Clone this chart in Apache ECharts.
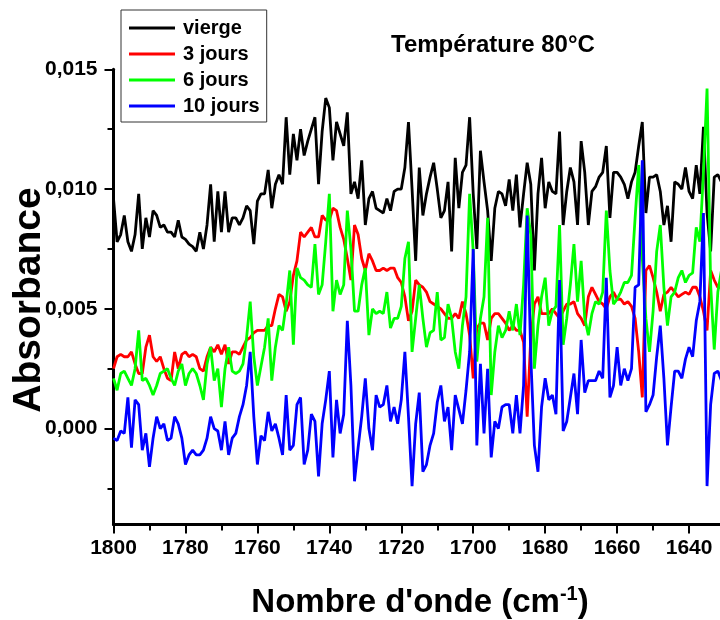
<!DOCTYPE html>
<html>
<head>
<meta charset="utf-8">
<script src="https://cdn.jsdelivr.net/npm/echarts@6/dist/echarts.min.js"></script>
<style>
html,body{margin:0;padding:0;background:#fff;}
#chart{width:720px;height:620px;}
</style>
</head>
<body>
<div id="chart"></div>
<script>
// Wavenumbers (cm-1)
const wavenumbers = [1800,1799,1798,1797,1796,1795,1794,1793,1792,1791,1790,1789,1788,1787,1786,1785,1784,1783,1782,1781,
1780,1779,1778,1777,1776,1775,1774,1773,1772,1771,1770,1769,1768,1767,1766,1765,1764,1763,1762,1761,
1760,1759,1758,1757,1756,1755,1754,1753,1752,1751,1750,1749,1748,1747,1746,1745,1744,1743,1742,1741,
1740,1739,1738,1737,1736,1735,1734,1733,1732,1731,1730,1729,1728,1727,1726,1725,1724,1723,1722,1721,
1720,1719,1718,1717,1716,1715,1714,1713,1712,1711,1710,1709,1708,1707,1706,1705,1704,1703,1702,1701,
1700,1699,1698,1697,1696,1695,1694,1693,1692,1691,1690,1689,1688,1687,1686,1685,1684,1683,1682,1681,
1680,1679,1678,1677,1676,1675,1674,1673,1672,1671,1670,1669,1668,1667,1666,1665,1664,1663,1662,1661,
1660,1659,1658,1657,1656,1655,1654,1653,1652,1651,1650,1649,1648,1647,1646,1645,1644,1643,1642,1641,
1640,1639,1638,1637,1636,1635,1634,1633,1632,1631];

const vierge = [0.0096,0.0078,0.0081,0.0089,0.0078,0.0074,0.0081,0.0098,0.0075,0.0088,0.0080,0.0091,0.0089,0.0084,0.0085,0.0082,0.0082,0.0080,0.0087,0.0080,
0.0079,0.0077,0.0076,0.0074,0.0082,0.0075,0.0085,0.0102,0.0078,0.0099,0.0082,0.0099,0.0082,0.0088,0.0088,0.0085,0.0088,0.0093,0.0091,0.0077,
0.0095,0.0098,0.0098,0.0108,0.0092,0.0102,0.0106,0.0102,0.0130,0.0106,0.0123,0.0112,0.0125,0.0114,0.0120,0.0125,0.0130,0.0102,0.0124,0.0138,
0.0134,0.0112,0.0128,0.0123,0.0118,0.0132,0.0098,0.0103,0.0096,0.0112,0.0085,0.0096,0.0099,0.0092,0.0091,0.0090,0.0096,0.0091,0.0099,0.0100,
0.0100,0.0109,0.0128,0.0100,0.0070,0.0109,0.0089,0.0098,0.0105,0.0111,0.0100,0.0088,0.0091,0.0103,0.0074,0.0113,0.0092,0.0107,0.0110,0.0130,
0.0098,0.0075,0.0116,0.0103,0.0091,0.0070,0.0092,0.0099,0.0098,0.0093,0.0104,0.0091,0.0106,0.0084,0.0098,0.0111,0.0102,0.0066,0.0098,0.0113,
0.0092,0.0103,0.0099,0.0098,0.0124,0.0085,0.0099,0.0109,0.0103,0.0085,0.0120,0.0107,0.0085,0.0099,0.0101,0.0105,0.0107,0.0118,0.0088,0.0107,
0.0107,0.0105,0.0102,0.0096,0.0103,0.0107,0.0118,0.0128,0.0090,0.0105,0.0105,0.0106,0.0099,0.0085,0.0093,0.0078,0.0103,0.0102,0.0100,0.0109,
0.0099,0.0096,0.0110,0.0098,0.0126,0.0090,0.0074,0.0105,0.0106,0.0103];

const jours3 = [0.0025,0.0030,0.0031,0.0030,0.0030,0.0032,0.0027,0.0023,0.0023,0.0034,0.0039,0.0030,0.0028,0.0030,0.0025,0.0021,0.0020,0.0032,0.0025,0.0031,
0.0032,0.0030,0.0031,0.0030,0.0025,0.0024,0.0030,0.0034,0.0032,0.0035,0.0031,0.0035,0.0027,0.0032,0.0032,0.0031,0.0034,0.0037,0.0038,0.0040,
0.0041,0.0041,0.0041,0.0043,0.0043,0.0050,0.0056,0.0055,0.0049,0.0053,0.0064,0.0070,0.0082,0.0080,0.0082,0.0084,0.0080,0.0080,0.0089,0.0087,
0.0087,0.0092,0.0091,0.0084,0.0079,0.0071,0.0062,0.0085,0.0081,0.0071,0.0066,0.0073,0.0070,0.0066,0.0066,0.0067,0.0066,0.0067,0.0067,0.0063,
0.0061,0.0055,0.0045,0.0049,0.0062,0.0060,0.0059,0.0057,0.0053,0.0052,0.0051,0.0050,0.0048,0.0046,0.0046,0.0048,0.0046,0.0053,0.0048,0.0039,
0.0021,0.0042,0.0044,0.0044,0.0037,0.0046,0.0048,0.0048,0.0046,0.0044,0.0041,0.0043,0.0041,0.0041,0.0036,0.0005,0.0038,0.0052,0.0055,0.0048,
0.0048,0.0048,0.0050,0.0048,0.0046,0.0049,0.0052,0.0052,0.0053,0.0048,0.0046,0.0043,0.0055,0.0059,0.0056,0.0053,0.0052,0.0050,0.0055,0.0057,
0.0054,0.0054,0.0052,0.0053,0.0051,0.0046,0.0032,0.0013,0.0066,0.0068,0.0063,0.0057,0.0049,0.0056,0.0057,0.0059,0.0057,0.0055,0.0056,0.0057,
0.0056,0.0059,0.0059,0.0055,0.0049,0.0041,0.0066,0.0062,0.0059,0.0059];

const jours6 = [0.0021,0.0016,0.0023,0.0024,0.0021,0.0018,0.0025,0.0041,0.0020,0.0021,0.0018,0.0014,0.0018,0.0023,0.0024,0.0025,0.0021,0.0018,0.0024,0.0027,
0.0018,0.0023,0.0025,0.0023,0.0018,0.0012,0.0027,0.0034,0.0020,0.0025,0.0009,0.0025,0.0034,0.0024,0.0023,0.0024,0.0027,0.0038,0.0053,0.0030,
0.0018,0.0026,0.0034,0.0046,0.0020,0.0034,0.0043,0.0041,0.0052,0.0066,0.0035,0.0067,0.0063,0.0062,0.0060,0.0059,0.0077,0.0056,0.0060,0.0078,
0.0098,0.0049,0.0062,0.0056,0.0060,0.0091,0.0075,0.0049,0.0049,0.0060,0.0067,0.0039,0.0050,0.0048,0.0049,0.0048,0.0057,0.0042,0.0046,0.0046,
0.0051,0.0071,0.0078,0.0032,0.0046,0.0060,0.0046,0.0034,0.0040,0.0041,0.0057,0.0037,0.0038,0.0052,0.0046,0.0032,0.0025,0.0043,0.0055,0.0098,
0.0074,0.0028,0.0046,0.0055,0.0088,0.0014,0.0032,0.0043,0.0038,0.0041,0.0049,0.0041,0.0052,0.0039,0.0060,0.0092,0.0081,0.0025,0.0043,0.0055,
0.0063,0.0043,0.0049,0.0051,0.0085,0.0035,0.0046,0.0060,0.0077,0.0053,0.0070,0.0046,0.0039,0.0048,0.0053,0.0052,0.0057,0.0091,0.0066,0.0052,
0.0054,0.0057,0.0061,0.0061,0.0064,0.0088,0.0110,0.0071,0.0046,0.0032,0.0049,0.0074,0.0085,0.0059,0.0043,0.0055,0.0057,0.0063,0.0066,0.0061,
0.0064,0.0065,0.0084,0.0078,0.0107,0.0142,0.0060,0.0033,0.0057,0.0066];

const jours10 = [-0.0004,-0.0005,-0.0001,-0.0002,0.0013,-0.0008,0.0012,0.0010,-0.0009,-0.0002,-0.0016,-0.0004,0.0005,0.0000,0.0002,-0.0005,-0.0004,0.0005,0.0002,-0.0004,
-0.0015,-0.0011,-0.0009,-0.0011,-0.0011,-0.0009,-0.0004,0.0005,0.0000,-0.0001,-0.0009,0.0003,-0.0011,-0.0004,-0.0002,0.0005,0.0010,0.0018,0.0032,0.0005,
-0.0015,-0.0003,-0.0005,0.0007,-0.0001,0.0002,-0.0004,-0.0011,0.0014,-0.0009,-0.0007,0.0010,0.0013,-0.0015,-0.0009,0.0006,0.0003,-0.0020,0.0002,0.0012,
0.0024,-0.0012,0.0012,-0.0002,0.0006,0.0045,0.0018,-0.0022,-0.0008,0.0005,0.0021,0.0000,-0.0009,0.0014,0.0009,0.0010,0.0018,0.0003,0.0009,0.0002,
0.0012,0.0032,0.0005,-0.0024,0.0002,0.0015,-0.0018,-0.0015,-0.0007,-0.0002,0.0011,0.0018,0.0003,0.0009,-0.0009,0.0014,0.0008,0.0002,0.0016,0.0032,
0.0075,-0.0007,0.0027,-0.0002,0.0025,-0.0012,0.0003,0.0000,0.0009,0.0010,0.0010,-0.0002,0.0014,-0.0002,0.0018,0.0089,0.0030,-0.0007,-0.0018,0.0009,
0.0021,0.0012,0.0014,0.0006,0.0062,-0.0001,0.0003,0.0013,0.0023,0.0006,0.0037,0.0015,0.0020,0.0020,0.0020,0.0024,0.0021,0.0063,0.0013,0.0018,
0.0034,0.0018,0.0025,0.0020,0.0025,0.0059,0.0060,0.0112,0.0007,0.0010,0.0014,0.0030,0.0043,0.0021,-0.0007,0.0009,0.0024,0.0024,0.0021,0.0029,
0.0034,0.0030,0.0045,0.0053,0.0090,-0.0024,0.0010,0.0023,0.0024,0.0020];

const seriesNames = ['vierge', '3 jours', '6 jours', '10 jours'];
const seriesColors = ['#000000', '#ff0000', '#00ff00', '#0000ff'];
const seriesValues = [vierge, jours3, jours6, jours10];

const xMajorTicks = [1800,1780,1760,1740,1720,1700,1680,1660,1640];
const xMinorTicks = [1790,1770,1750,1730,1710,1690,1670,1650];
const yMajorTicks = [0, 0.005, 0.010, 0.015];
const yMinorTicks = [-0.0025, 0.0025, 0.0075, 0.0125];

const FONT = 'Liberation Sans, Arial, Helvetica, sans-serif';

const chart = echarts.init(document.getElementById('chart'), null, {renderer: 'canvas'});

const xMin = 1631.4, xMax = 1800;
const yMin = -0.004, yMax = 0.015;

const series = seriesNames.map((name, k) => ({
  name: name,
  type: 'line',
  xAxisIndex: 0,
  yAxisIndex: 0,
  data: wavenumbers.map((w, i) => [w, seriesValues[k][i]]),
  showSymbol: false,
  symbol: 'none',
  clip: true,
  lineStyle: {color: seriesColors[k], width: 2.8},
  itemStyle: {color: seriesColors[k]},
  z: 2 + k
}));

chart.setOption({
  animation: false,
  backgroundColor: '#ffffff',
  title: {
    text: 'Température 80°C',
    left: 391, top: 33, padding: 0,
    textStyle: {fontFamily: FONT, fontSize: 24, fontWeight: 'bold', color: '#000'}
  },
  legend: {
    orient: 'vertical',
    left: 121, top: 10,
    padding: [8, 7, 6, 8],
    itemGap: 6,
    itemWidth: 46,
    itemHeight: 3,
    icon: 'rect',
    borderColor: '#333',
    borderWidth: 1,
    backgroundColor: '#fff',
    data: seriesNames,
    textStyle: {fontFamily: FONT, fontSize: 20, fontWeight: 'bold', color: '#000', lineHeight: 20, padding: [0, 0, 0, 3]}
  },
  grid: {left: 113.5, right: 0, top: 69.3, bottom: 95.6, containLabel: false},
  xAxis: [{
    type: 'value', inverse: true, min: xMin, max: xMax, position: 'bottom',
    axisLine: {show: true, onZero: false, lineStyle: {color: '#000', width: 3}},
    axisTick: {show: true, customValues: xMajorTicks, length: 9, lineStyle: {color: '#000', width: 2}},
    axisLabel: {show: true, customValues: xMajorTicks, margin: 13, fontFamily: FONT, fontSize: 21, fontWeight: 'bold', color: '#000',
      formatter: v => String(Math.round(v))},
    splitLine: {show: false}
  }, {
    type: 'value', inverse: true, min: xMin, max: xMax, position: 'bottom', offset: 0,
    axisLine: {show: false, onZero: false},
    axisTick: {show: true, customValues: xMinorTicks, length: 6, lineStyle: {color: '#000', width: 2}},
    axisLabel: {show: false},
    splitLine: {show: false}
  }],
  yAxis: [{
    type: 'value', min: yMin, max: yMax, position: 'left',
    axisLine: {show: true, onZero: false, lineStyle: {color: '#000', width: 3}},
    axisTick: {show: true, customValues: yMajorTicks, length: 9, lineStyle: {color: '#000', width: 2}},
    axisLabel: {show: true, customValues: yMajorTicks, margin: 16, fontFamily: FONT, fontSize: 21, fontWeight: 'bold', color: '#000',
      formatter: v => v.toFixed(3).replace('.', ',')},
    splitLine: {show: false}
  }, {
    type: 'value', min: yMin, max: yMax, position: 'left', offset: 0,
    axisLine: {show: false, onZero: false},
    axisTick: {show: true, customValues: yMinorTicks, length: 6, lineStyle: {color: '#000', width: 2}},
    axisLabel: {show: false},
    splitLine: {show: false}
  }],
  graphic: [{
    type: 'text',
    x: 29, y: 300,
    rotation: Math.PI / 2,
    style: {text: 'Absorbance', fontFamily: FONT, fontSize: 39, fontWeight: 'bold', fill: '#000', align: 'center', verticalAlign: 'middle'}
  }, {
    type: 'text',
    x: 420, y: 603,
    style: {
      text: "{a|Nombre d'onde (cm}{s|-1}{a|)}",
      align: 'center', verticalAlign: 'middle',
      rich: {
        a: {fontFamily: FONT, fontSize: 33, fontWeight: 'bold', fill: '#000', lineHeight: 38},
        s: {fontFamily: FONT, fontSize: 20, fontWeight: 'bold', fill: '#000', verticalAlign: 'top', lineHeight: 20}
      }
    }
  }],
  series: series
});
</script>
</body>
</html>
